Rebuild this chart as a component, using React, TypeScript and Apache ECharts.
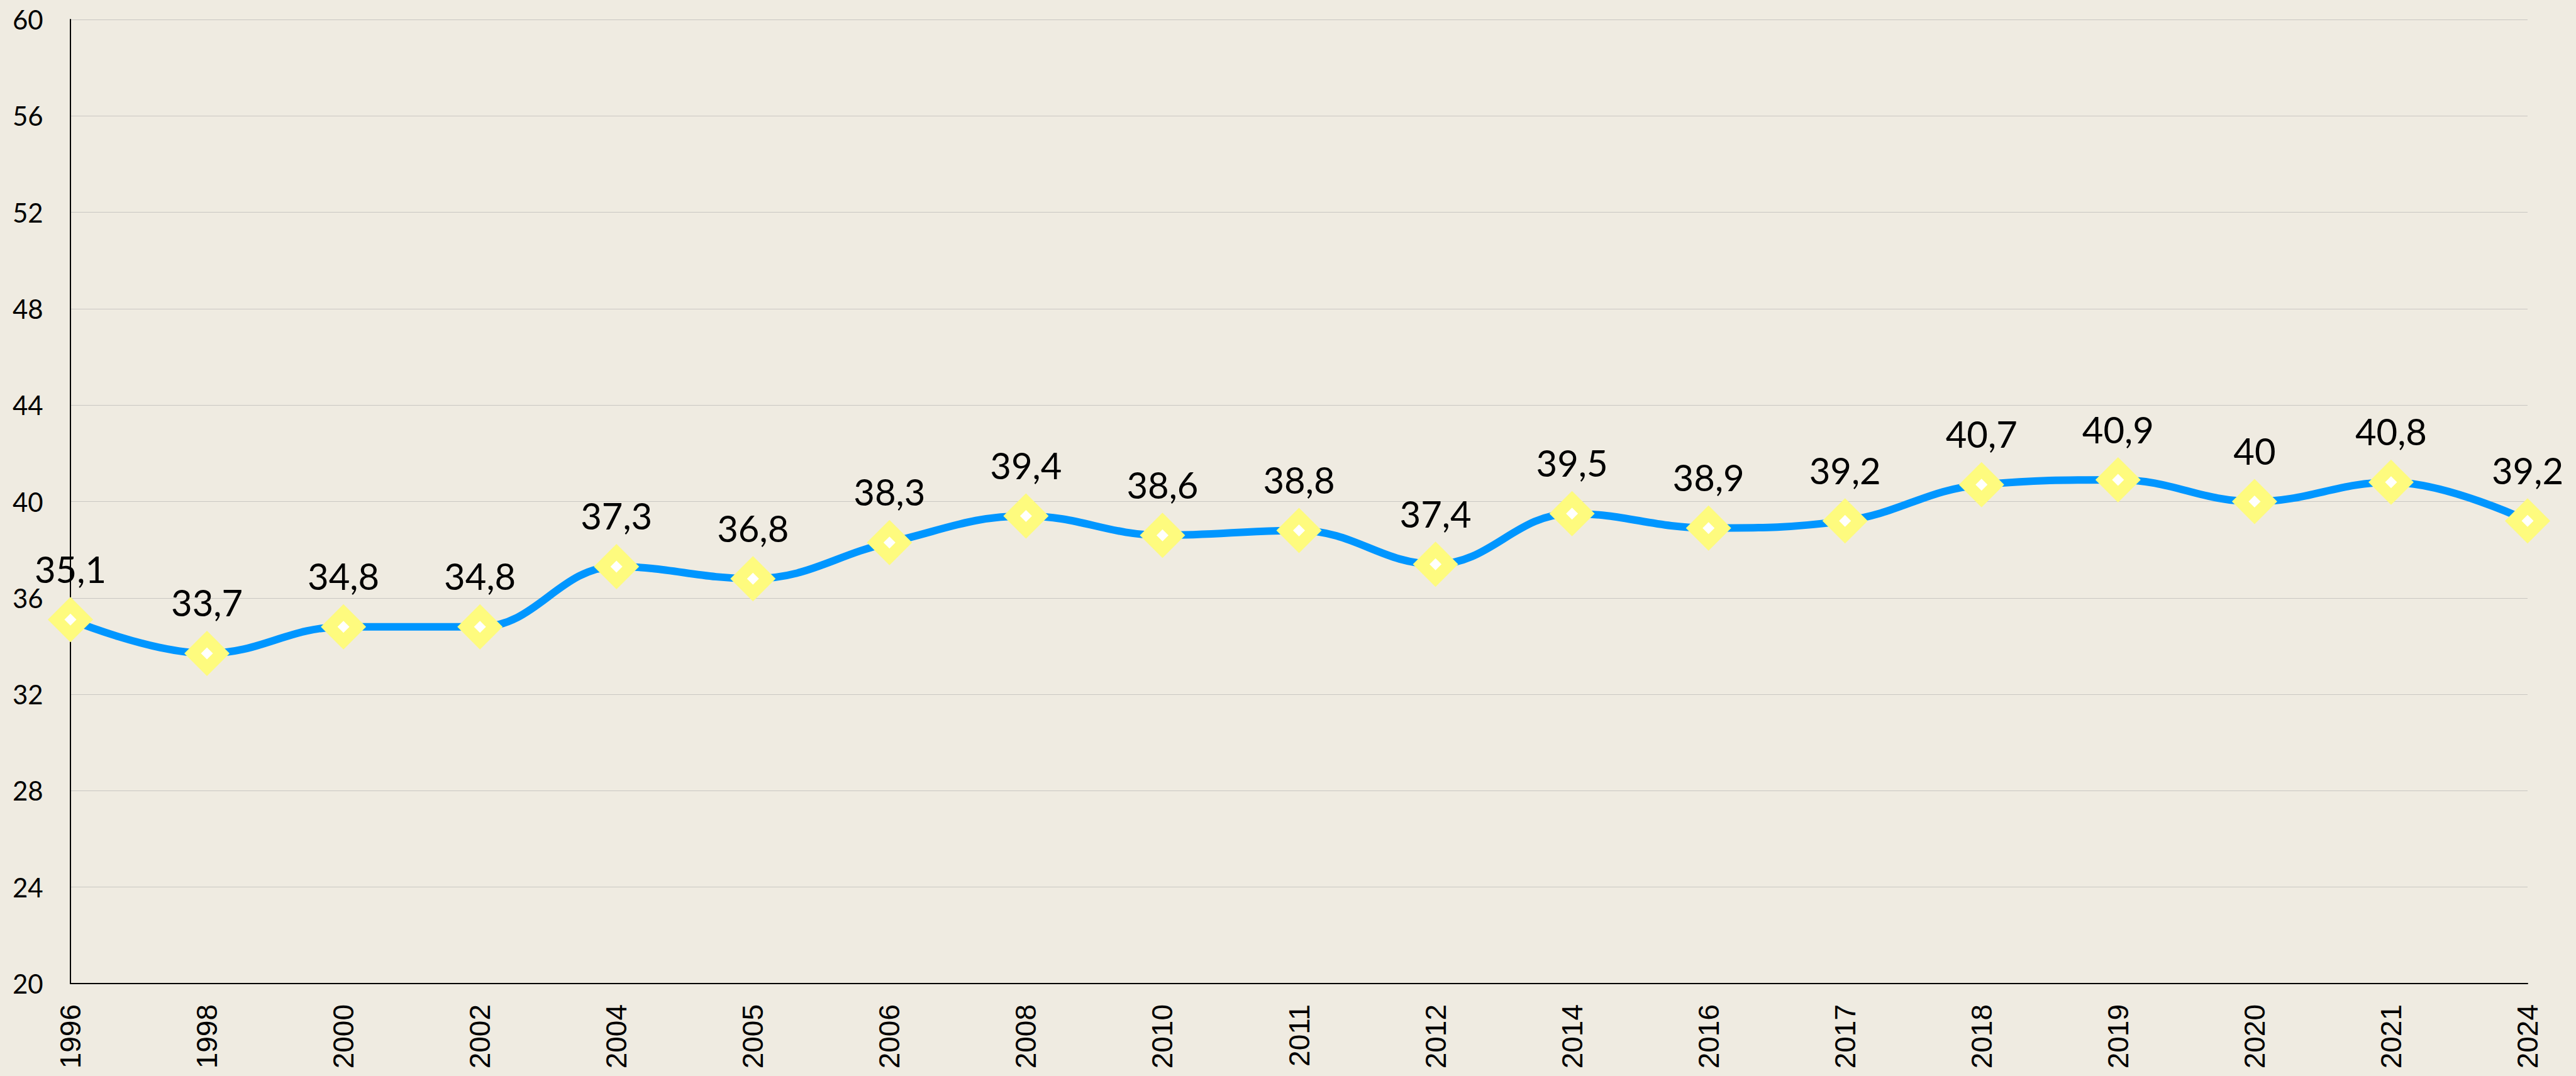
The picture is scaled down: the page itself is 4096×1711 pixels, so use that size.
import React, { useEffect, useRef } from "react";
import * as echarts from "echarts";

const years = ["1996", "1998", "2000", "2002", "2004", "2005", "2006", "2008", "2010", "2011", "2012", "2014", "2016", "2017", "2018", "2019", "2020", "2021", "2024"];
const values = [35.1, 33.7, 34.8, 34.8, 37.3, 36.8, 38.3, 39.4, 38.6, 38.8, 37.4, 39.5, 38.9, 39.2, 40.7, 40.9, 40, 40.8, 39.2];
const yMin = 20;
const yMax = 60;
const yStep = 4;

export default function App() {
  const ref = useRef<HTMLDivElement>(null);
  useEffect(() => {
    const chart = echarts.init(ref.current!, null, { renderer: "svg" });
    chart.setOption({
      animation: false,
      backgroundColor: "#EFEBE1",
      grid: { left: 112, right: 77, top: 31, bottom: 147, containLabel: false },
      xAxis: {
        type: "category",
        data: years,
        boundaryGap: false,
        axisLine: { show: true, lineStyle: { color: "#000", width: 2 } },
        axisTick: { show: false },
        axisLabel: {
          rotate: 90,
          margin: 33,
          fontSize: 46,
          fontFamily: "Liberation Sans",
          color: "#000",
          interval: 0,
        },
        splitLine: { show: false },
      },
      yAxis: {
        type: "value",
        min: yMin,
        max: yMax,
        interval: yStep,
        axisLine: { show: true, lineStyle: { color: "#000", width: 2 } },
        axisTick: { show: false },
        axisLabel: {
          align: "left",
          margin: 92,
          fontSize: 42,
          fontFamily: "Lato",
          color: "#000",
        },
        splitLine: { show: true, lineStyle: { color: "#C9C7C2", width: 1.2 } },
      },
      series: [
        {
          type: "line",
          data: values,
          smooth: 0.4,
          lineStyle: { color: "#0096FF", width: 12 },
          symbol: "diamond",
          symbolSize: 72,
          itemStyle: { color: "#FEFB7E" },
          label: {
            show: true,
            position: "top",
            distance: 16,
            fontSize: 58,
            fontFamily: "Lato",
            color: "#000",
            formatter: (p: any) => String(p.value).replace(".", ","),
          },
          z: 2,
        },
        {
          type: "line",
          data: values,
          smooth: 0.4,
          lineStyle: { opacity: 0, width: 0 },
          symbol: "diamond",
          symbolSize: 19,
          itemStyle: { color: "#FFFFFF" },
          label: { show: false },
          silent: true,
          z: 3,
        },
      ],
    });
    return () => chart.dispose();
  }, []);
  return <div ref={ref} style={{ width: 4096, height: 1711, position: "absolute", left: 0, top: 0 }} />;
}
